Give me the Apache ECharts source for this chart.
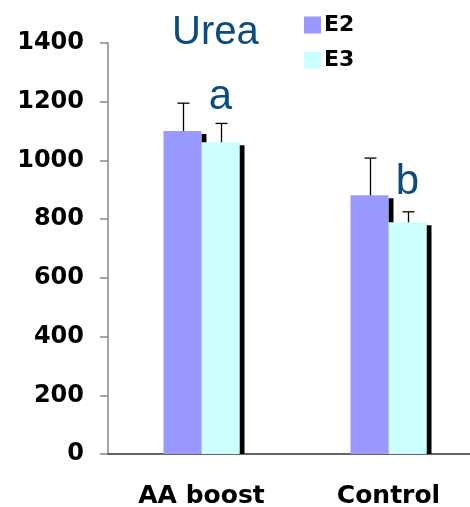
<!DOCTYPE html>
<html><head><meta charset="utf-8">
<script src="https://cdn.jsdelivr.net/npm/echarts@6/dist/echarts.min.js"></script>
<style>html,body{margin:0;padding:0;background:#fff;overflow:hidden}#c{width:470px;height:507px}</style>
</head><body><div id="c"></div>
<script>
const categories = ['AA boost', 'Control'];
const seriesNames = ['E2', 'E3'];
const e2Values = [1100, 881];
const e3Values = [1062, 789];
const e2ErrTop = [1195, 1008];
const e3ErrTop = [1126, 825];
const letters = ['a', 'b'];
const letterY = [1215, 925];
const yTicks = [0, 200, 400, 600, 800, 1000, 1200, 1400];

const BAR_W = 38;
const chart = echarts.init(document.getElementById('c'), null, {renderer: 'canvas'});
const rowData = categories.map((c, i) => [i, e2Values[i], e2ErrTop[i], e3Values[i], e3ErrTop[i], letterY[i]]);

chart.setOption({
  animation: false,
  title: {text: 'Urea', left: 172, top: 13, padding: 0,
    textStyle: {fontFamily: 'Liberation Sans', fontWeight: 'normal', fontSize: 40, color: '#0b4c80'}},
  legend: {orient: 'vertical', left: 304, top: 14, padding: 0, itemWidth: 17, itemHeight: 17, itemGap: 13,
    icon: 'rect', data: seriesNames,
    textStyle: {fontFamily: 'DejaVu Sans', fontWeight: 'bold', fontSize: 22, color: '#000', padding: [0, 0, 0, -2]}},
  grid: {left: 108, top: 43, bottom: 53, width: 374, outerBoundsMode: 'none', containLabel: false},
  xAxis: {type: 'category', data: categories,
    axisLine: {lineStyle: {color: '#333', width: 1.5}},
    axisTick: {length: 9, lineStyle: {color: '#333', width: 1.5}},
    axisLabel: {margin: 30, fontFamily: 'DejaVu Sans', fontWeight: 'bold', fontSize: 25, color: '#000'}},
  yAxis: {type: 'value', min: yTicks[0], max: yTicks[yTicks.length - 1], interval: 200,
    splitLine: {show: false},
    axisLine: {show: true, lineStyle: {color: '#888', width: 1.5}},
    axisTick: {show: true, length: 8, lineStyle: {color: '#888', width: 1.5}},
    axisLabel: {margin: 24, formatter: v => String(v), fontFamily: 'DejaVu Sans', fontWeight: 'bold', fontSize: 24, color: '#000'}},
  series: [
    {type: 'custom', data: rowData, z: 1, silent: true,
      renderItem: function (params, api) {
        const ci = api.value(0);
        const children = [];
        [[1, 0], [3, BAR_W]].forEach(function (p) {
          const top = api.coord([ci, api.value(p[0])]);
          const base = api.coord([ci, 0]);
          const x = top[0] + p[1];
          children.push({type: 'rect', shape: {x: x, y: top[1] + 3, width: 5, height: base[1] - top[1] - 3},
            style: {fill: '#000'}});
        });
        return {type: 'group', children: children};
      }},
    {name: 'E2', type: 'bar', data: e2Values, barWidth: BAR_W, barGap: '0%', z: 2,
      itemStyle: {color: '#9999ff', borderWidth: 0}},
    {name: 'E3', type: 'bar', data: e3Values, barWidth: BAR_W, barGap: '0%', z: 2,
      itemStyle: {color: '#ccffff', borderWidth: 0}},
    {type: 'custom', data: rowData, z: 10, silent: true,
      renderItem: function (params, api) {
        const ci = api.value(0);
        const children = [];
        const pairs = [[1, 2, -BAR_W / 2], [3, 4, BAR_W / 2]];
        pairs.forEach(function (p) {
          const base = api.coord([ci, api.value(p[0])]);
          const top = api.coord([ci, api.value(p[1])]);
          const x = Math.round(base[0] + p[2]) + 0.5;
          children.push({type: 'line', shape: {x1: x, y1: base[1], x2: x, y2: top[1]},
            style: {stroke: '#000', lineWidth: 1.3}});
          children.push({type: 'line', shape: {x1: x - 6, y1: top[1], x2: x + 6, y2: top[1]},
            style: {stroke: '#000', lineWidth: 1.3}});
        });
        const lp = api.coord([ci, api.value(5)]);
        children.push({type: 'text', x: lp[0] + BAR_W / 2, y: lp[1],
          style: {text: letters[params.dataIndex], fill: '#0b4c80', fontFamily: 'Liberation Sans',
            fontSize: 42, align: 'center', verticalAlign: 'middle'}});
        return {type: 'group', children: children};
      }}
  ]
});
</script></body></html>
